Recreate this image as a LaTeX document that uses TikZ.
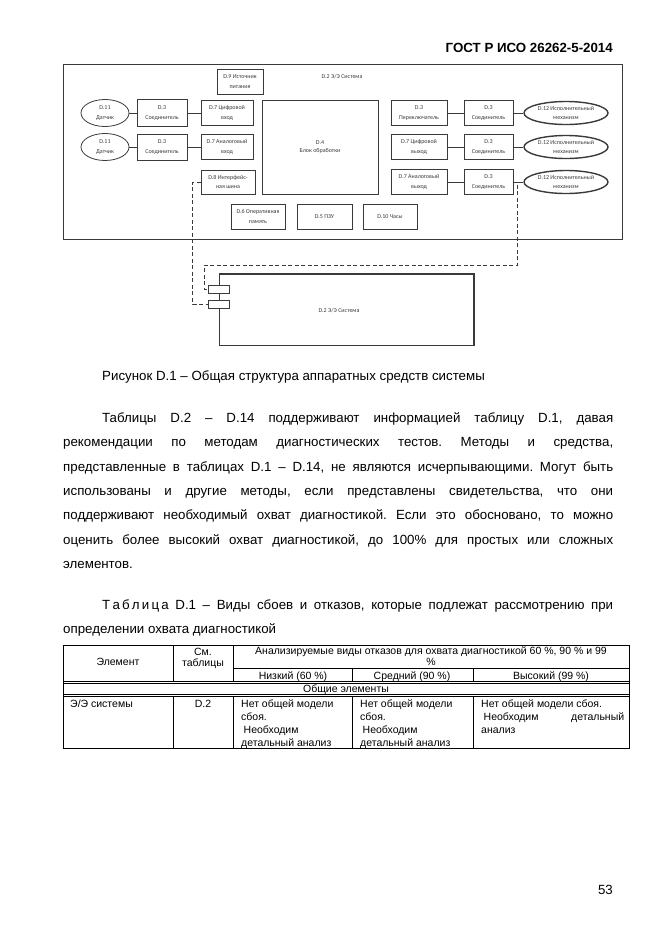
\documentclass[tikz,border=0pt]{standalone}
\usepackage{fontspec}
\setmainfont{Liberation Sans}
\newfontfamily\diagfont{Carlito}
\usetikzlibrary{shapes.geometric,calc}
\frenchspacing
\definecolor{ln}{HTML}{3A3A3A}
\tikzset{
  dg/.style={font=\diagfont\fontsize{6}{9.5}\selectfont, text=ln, align=center},
  bx/.style={dg, draw=ln, line width=0.8pt, inner sep=0pt, fill=white},
  el/.style={dg, ellipse, draw=ln, line width=0.8pt, inner sep=0pt},
  elb/.style={el, line width=1.4pt},
  wire/.style={draw=ln, line width=0.8pt},
  dsh/.style={draw=ln, line width=0.8pt, dash pattern=on 4pt off 2.5pt},
  body/.style={font=\fontsize{13.3}{16}\selectfont, anchor=base west, inner sep=0pt},
  tb/.style={font=\fontsize{10.5}{13}\selectfont, inner sep=0pt, anchor=base},
  tl/.style={line width=0.7pt}
}
\begin{document}
\begin{tikzpicture}[x=1pt,y=-1pt]
\useasboundingbox (0,0) rectangle (661,935);
% header
\node[font=\bfseries\fontsize{13.3}{16}\selectfont, anchor=base east, inner sep=0pt] (hdr) at (613,52) {ГОСТ Р ИСО 26262-5-2014};
% outer system
\draw[draw=ln, line width=0.9pt] (63,64) rectangle (622,239);
\node[dg] (sysl) at (342,77) {D.2 Э/Э Система};
\node[bx, minimum width=46pt, minimum height=25pt] (pwr) at (240,81.5) {D.9 Источник\\питания};
\node[bx, minimum width=116pt, minimum height=94pt] (cpu) at (320,147) {D.4\\[-2pt]Блок обработки};
% left side
\node[el, minimum width=48pt, minimum height=27pt] (s1) at (105,113) {D.11\\Датчик};
\node[el, minimum width=48pt, minimum height=27pt] (s2) at (105,147) {D.11\\Датчик};
\node[bx, minimum width=50pt, minimum height=27pt] (c1) at (162,113) {D.3\\Соединитель};
\node[bx, minimum width=50pt, minimum height=26pt] (c2) at (162,147) {D.3\\Соединитель};
\node[bx, minimum width=52pt, minimum height=25pt] (di) at (227,113) {D.7 Цифровой\\вход};
\node[bx, minimum width=52pt, minimum height=25pt] (ai) at (227,147) {D.7 Аналоговый\\вход};
\node[bx, minimum width=54pt, minimum height=24pt] (bus) at (228,182) {D.8 Интерфейс-\\ная шина};
% bottom row
\node[bx, minimum width=54pt, minimum height=25pt] (ram) at (258,216.5) {D.6 Оперативная\\память};
\node[bx, minimum width=55pt, minimum height=25pt] (rom) at (324.5,216.5) {D.5 ПЗУ};
\node[bx, minimum width=54pt, minimum height=25pt] (clk) at (390,216.5) {D.10 Часы};
% right side
\node[bx, minimum width=56pt, minimum height=25pt] (sw) at (419,113) {D.3\\Переключатель};
\node[bx, minimum width=56pt, minimum height=25pt] (do) at (419,147) {D.7 Цифровой\\выход};
\node[bx, minimum width=56pt, minimum height=25pt] (ao) at (419,182) {D.7 Аналоговый\\выход};
\node[bx, minimum width=49pt, minimum height=25pt] (c3) at (488.5,113) {D.3\\Соединитель};
\node[bx, minimum width=49pt, minimum height=25pt] (c4) at (488.5,147) {D.3\\Соединитель};
\node[bx, minimum width=49pt, minimum height=25pt] (c5) at (488.5,182) {D.3\\Соединитель};
\node[elb, minimum width=84pt, minimum height=23pt] (a1) at (566,113) {D.12 Исполнительный\\механизм};
\node[elb, minimum width=84pt, minimum height=23pt] (a2) at (566,147) {D.12 Исполнительный\\механизм};
\node[elb, minimum width=84pt, minimum height=23pt] (a3) at (566,182) {D.12 Исполнительный\\механизм};
% wires
\draw[wire] (s1) -- (c1); \draw[wire] (c1) -- (di);
\draw[wire] (s2) -- (c2); \draw[wire] (c2) -- (ai);
\draw[wire] (sw) -- (c3); \draw[wire] (c3) -- (a1);
\draw[wire] (do) -- (c4); \draw[wire] (c4) -- (a2);
\draw[wire] (ao) -- (c5); \draw[wire] (c5) -- (a3);
% lower system
\draw[draw=ln, line width=0.8pt] (219,274) rectangle (474,345);
\draw[draw=ln, line width=2pt] (219,274) -- (474,274) -- (474,345);
\node[dg] (sys2l) at (339,311) {D.2 Э/Э Система};
\node[bx, minimum width=21pt, minimum height=8pt] (p1) at (218.5,289) {};
\node[bx, minimum width=21pt, minimum height=8pt] (p2) at (218.5,304) {};
\draw[dsh] (bus.west) -- ++(-8,0) |- (p2.west);
\draw[dsh] (c5.east) -- ++(4,0) -- ++(0,83) -| ($(p1.west)+(-3,0)$) -- (p1.west);
% caption
\node[body] (cap) at (102,380) {Рисунок D.1 – Общая структура аппаратных средств системы};
% paragraph
\node[body] (l1) at (102,422) {\makebox[511pt][s]{Таблицы D.2 – D.14 поддерживают информацией таблицу D.1, давая}};
\node[body] (l2) at (63,446) {\makebox[550pt][s]{рекомендации по методам диагностических тестов. Методы и средства,}};
\node[body] (l3) at (63,471) {\makebox[550pt][s]{представленные в таблицах D.1 – D.14, не являются исчерпывающими. Могут быть}};
\node[body] (l4) at (63,495) {\makebox[550pt][s]{использованы и другие методы, если представлены свидетельства, что они}};
\node[body] (l5) at (63,519) {\makebox[550pt][s]{поддерживают необходимый охват диагностикой. Если это обосновано, то можно}};
\node[body] (l6) at (63,544) {\makebox[550pt][s]{оценить более высокий охват диагностикой, до 100\% для простых или сложных}};
\node[body] (l7) at (63,568) {элементов.};
% table caption
\node[body] (tc1) at (102,609) {\makebox[511pt][s]{Т\kern2.2ptа\kern2.2ptб\kern2.2ptл\kern2.2ptи\kern2.2ptц\kern2.2ptа D.1 – Виды сбоев и отказов, которые подлежат рассмотрению при}};
\node[body] (tc2) at (63,633) {определении охвата диагностикой};
% table
\draw[tl] (63,645) rectangle (629,748);
\draw[tl] (173,645) -- (173,681.5) (233,645) -- (233,681.5);
\draw[tl] (233,668) -- (629,668);
\draw[tl] (352,668) -- (352,681.5) (473,668) -- (473,681.5);
\draw[tl] (63,681.5) -- (629,681.5) (63,683.5) -- (629,683.5);
\draw[tl] (63,694) -- (629,694) (63,696) -- (629,696);
\draw[tl] (173,696) -- (173,748) (233,696) -- (233,748) (352,696) -- (352,748) (473,696) -- (473,748);
\node[tb] (h1) at (118,665) {Элемент};
\node[tb] (h2) at (203,655) {См.};
\node[tb] (h3) at (203,666) {таблицы};
\node[tb] (h4) at (431,654) {Анализируемые виды отказов для охвата диагностикой 60 \%, 90 \% и 99};
\node[tb] (h5) at (431,665) {\%};
\node[tb] (h6) at (293,679) {Низкий (60 \%)};
\node[tb] (h7) at (412,679) {Средний (90 \%)};
\node[tb] (h8) at (551,679) {Высокий (99 \%)};
\node[tb] (h9) at (346,692) {Общие элементы};
\node[tb, anchor=base west] (d1) at (70,707) {Э/Э системы};
\node[tb] (d2) at (203,707) {D.2};
\node[tb, anchor=base west] (e1) at (241,707) {Нет общей модели};
\node[tb, anchor=base west] (e2) at (241,720) {сбоя.};
\node[tb, anchor=base west] (e3) at (241,733) {\kern2.5ptНеобходим};
\node[tb, anchor=base west] (e4) at (241,746) {детальный анализ};
\node[tb, anchor=base west] (f1) at (360,707) {Нет общей модели};
\node[tb, anchor=base west] (f2) at (360,720) {сбоя.};
\node[tb, anchor=base west] (f3) at (360,733) {\kern2.5ptНеобходим};
\node[tb, anchor=base west] (f4) at (360,746) {детальный анализ};
\node[tb, anchor=base west] (g1) at (481,707) {Нет общей модели сбоя.};
\node[tb, anchor=base west] (g2) at (481,720) {\makebox[143pt][s]{\kern2.5ptНеобходим детальный}};
\node[tb, anchor=base west] (g3) at (481,733) {анализ};
% page number
\node[body, anchor=base east] (pg) at (613,894) {53};
\end{tikzpicture}
\end{document}
